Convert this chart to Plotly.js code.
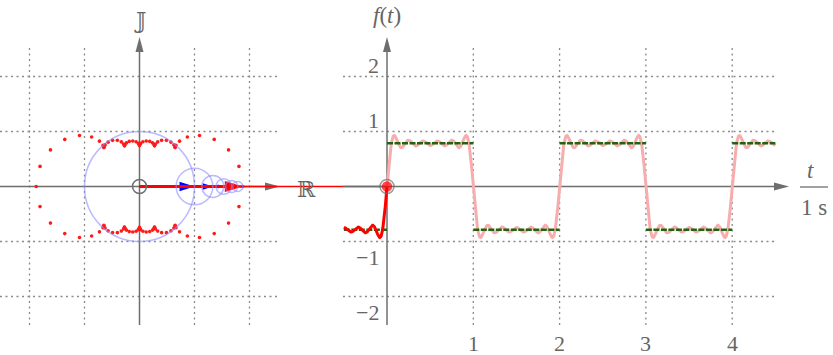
<!DOCTYPE html>
<html><head><meta charset="utf-8">
<script src="https://cdn.plot.ly/plotly-3.0.1.min.js"></script>
<style>html,body{margin:0;padding:0;background:#fff}</style>
</head><body><div id="chart" style="width:833px;height:355px"></div>
<script>
// ---------------- data ----------------
const harmonicOrders = [1, 3, 5, 7, 9, 11];                       // odd harmonics (circle count)
const harmonicAmplitudes = [1, 0.333, 0.2, 0.143, 0.111, 0.091];  // circle radii
const squareLevel = 0.785;                                        // green target level (±)
const squareEdges = [-0.5, 0, 1, 2, 3, 4, 4.5];                   // step boundaries in t
const squareSigns = [-1, 1, -1, 1, -1, 1];
const sampleStep = 0.02;     // spacing in t of the red locus dots
const period = 2;            // period of the square wave
const nowT = 0;              // current time (red dot)
const pastStart = -0.5;      // start of dark red history
const futureEnd = 4.5;       // end of light red curve
const tTicks = [1, 2, 3, 4];
const fTicks = [2, 1, -1, -2];
const leftGrid = [-2, -1, 1, 2];

// ---------------- geometry (style / layout) ----------------
const W = 833, H = 355;
const OXL = 139.5, OY = 186.5, S = 55;   // left panel origin (px) & px per unit
const OXR = 387, ST = 86.3;              // right panel origin x (px) & px per t unit
const GRAY = '#6e6e6e', FONT = 'Liberation Serif, DejaVu Serif, serif';

const xRange = [(0 - OXL) / S, (W - OXL) / S];
const x2Range = [(0 - OXR) / ST, (W - OXR) / ST];
const yRange = [(OY - H) / S, OY / S];
const px2x = p => (p - OXL) / S, px2t = p => (p - OXR) / ST, px2y = p => (OY - p) / S;
const tToX = t => (OXR + ST * t - OXL) / S;

const traces = [];
function line(xs, ys, color, width, axis, dash) {
  traces.push({type: 'scatter', mode: 'lines', x: xs, y: ys, xaxis: axis || 'x', yaxis: 'y',
    line: {color: color, width: width, dash: dash || 'solid'}, hoverinfo: 'skip', cliponaxis: false});
}
// triangle arrow head: tip (data), direction (px, y up), length & half width (px)
function head(tx, ty, dx, dy, len, hw, color, axis) {
  const sx = axis === 'x2' ? ST : S;
  const m = Math.hypot(dx, dy); dx /= m; dy /= m;
  const nx = -dy, ny = dx;
  const bx = tx - len * dx / sx, by = ty - len * dy / S;
  traces.push({type: 'scatter', mode: 'lines', xaxis: axis || 'x', yaxis: 'y', fill: 'toself',
    fillcolor: color, line: {width: 0, color: color}, hoverinfo: 'skip',
    x: [tx, bx + hw * nx / sx, bx - hw * nx / sx, tx], y: [ty, by + hw * ny / S, by - hw * ny / S, ty]});
}

// ---------------- grids ----------------
const DOT = '2px,3.5px', GRID = '#8a8a8a';
(function () {
  const gx = [], gy = [];
  const yLo = -2.52, yHi = 2.52, xLo = px2x(0), xHi = 2.52;
  leftGrid.forEach(v => { gx.push(v, v, null); gy.push(yLo, yHi, null); });
  leftGrid.forEach(v => { gx.push(xLo, xHi, null); gy.push(v, v, null); });
  line(gx, gy, GRID, 1.3, 'x', DOT);
  const rx = [], ry = [];
  const tLo = pastStart - 0.01, tHi = futureEnd + 0.01;
  tTicks.forEach(v => { rx.push(v, v, null); ry.push(yLo, yHi, null); });
  fTicks.forEach(v => { rx.push(tLo, tHi, null); ry.push(v, v, null); });
  line(rx, ry, GRID, 1.3, 'x2', DOT);
})();

// ---------------- axes ----------------
const yTip = px2y(37);
line([0, 0], [-2.52, yTip - 12 / S], GRAY, 1.5, 'x');           // imaginary axis
head(0, yTip, 0, 1, 15, 4, GRAY, 'x');
const xTip = px2x(280);
line([px2x(0), xTip - 12 / S], [0, 0], GRAY, 1.5, 'x');          // real axis
head(xTip, 0, 1, 0, 15, 4, GRAY, 'x');
line([0, 0], [-2.52, yTip - 12 / S], GRAY, 1.5, 'x2');          // f(t) axis
head(0, yTip, 0, 1, 15, 4, GRAY, 'x2');
const tTip = px2t(789);
line([pastStart - 0.01, tTip - 12 / ST], [0, 0], GRAY, 1.5, 'x2'); // t axis
head(tTip, 0, 1, 0, 15, 4, GRAY, 'x2');
line([px2t(800), px2t(828)], [px2y(187), px2y(187)], GRAY, 1.3, 'x2'); // fraction bar

// ---------------- Fourier model from the harmonics ----------------
function tipAt(t) {
  let re = 0, im = 0;
  harmonicOrders.forEach((n, k) => {
    re += harmonicAmplitudes[k] * Math.cos(n * Math.PI * t * 2 / period);
    im += harmonicAmplitudes[k] * Math.sin(n * Math.PI * t * 2 / period);
  });
  return [re, im];
}

// locus dots (one period)
(function () {
  const dx = [], dy = [];
  for (let k = 0; k < Math.round(period / sampleStep); k++) {
    const p = tipAt(k * sampleStep); dx.push(p[0]); dy.push(p[1]);
  }
  traces.push({type: 'scatter', mode: 'markers', x: dx, y: dy, xaxis: 'x', yaxis: 'y',
    marker: {color: '#ff1a1a', size: 3.6}, hoverinfo: 'skip'});
})();

// phasor circles and arrows at nowT
const shapes = [];
let cx = 0, cy = 0;
const centers = [];
harmonicOrders.forEach((n, k) => {
  const a = harmonicAmplitudes[k], ph = n * Math.PI * nowT * 2 / period;
  shapes.push({type: 'circle', xref: 'x', yref: 'y', layer: 'above',
    x0: cx - a, x1: cx + a, y0: cy - a, y1: cy + a, line: {color: 'rgba(140,140,255,0.6)', width: 1.5}});
  const nx = cx + a * Math.cos(ph), ny = cy + a * Math.sin(ph);
  centers.push([cx, cy, nx, ny, a]);
  cx = nx; cy = ny;
});
centers.forEach(c => {
  const L = c[4] * S, hl = Math.min(15, 0.55 * L);
  line([c[0], c[2]], [c[1], c[3]], '#0000ff', 1.5, 'x');
  head(c[2], c[3], c[2] - c[0], c[3] - c[1], hl, hl * 0.32, '#0000ff', 'x');
});
// resulting red arrow and projection line
const tip = tipAt(nowT);
line([0, tip[0] - 10 / S], [0, tip[1]], '#ff0000', 3, 'x');
head(tip[0], tip[1], tip[0], tip[1], 18, 5.5, '#ff0000', 'x');
line([tip[0], tToX(nowT)], [tip[1], tip[1]], '#ff0000', 1.5, 'x');

// origin circle (left)
traces.push({type: 'scatter', mode: 'markers', x: [0], y: [0], xaxis: 'x', yaxis: 'y', hoverinfo: 'skip',
  marker: {symbol: 'circle-open', size: 14, color: GRAY, line: {width: 1.5, color: GRAY}}});

// ---------------- right panel curves ----------------
(function () {
  const fx = [], fy = [];
  for (let t = nowT; t <= futureEnd + 1e-9; t += 0.004) { fx.push(t); fy.push(tipAt(t)[1]); }
  line(fx, fy, '#f7adad', 3, 'x2');
  const gx = [], gy = [];
  squareSigns.forEach((s, i) => { gx.push(squareEdges[i], squareEdges[i + 1], null); gy.push(s * squareLevel, s * squareLevel, null); });
  line(gx, gy, '#23620e', 2.4, 'x2', '6px,1.5px');
  const px = [], py = [];
  for (let t = pastStart; t <= nowT + 1e-9; t += 0.004) { px.push(t); py.push(tipAt(t)[1]); }
  line(px, py, '#ff0000', 3, 'x2');
  traces.push({type: 'scatter', mode: 'markers', x: [nowT, nowT], y: [tip[1], tip[1]], xaxis: 'x2', yaxis: 'y', hoverinfo: 'skip',
    marker: {symbol: ['circle-open', 'circle'], size: [14, 9], color: [GRAY, '#ff0000'], line: {width: 1.5, color: [GRAY, '#ff0000']}}});
})();

// ---------------- labels ----------------
const ann = [];
function txt(x, y, text, axis, size, opts) {
  ann.push(Object.assign({x: x, y: y, xref: axis, yref: 'y', text: text, showarrow: false,
    xanchor: 'center', yanchor: 'middle', font: {family: FONT, size: size, color: '#666'}}, opts || {}));
}
txt(0, px2y(20), '𝕁', 'x', 22, {font: {family: 'DejaVu Serif, DejaVu Sans', size: 22, color: '#666'}});
txt(px2x(306), px2y(189), 'ℝ', 'x', 22, {font: {family: 'DejaVu Serif, DejaVu Sans', size: 22, color: '#666'}});
txt(0, px2y(15), '<i>f</i>(<i>t</i>)', 'x2', 23);
txt(px2t(810), px2y(170), '<i>t</i>', 'x2', 23);
txt(px2t(814), px2y(207), '1 s', 'x2', 23);
tTicks.forEach(v => txt(v, px2y(343), String(v), 'x2', 22));
fTicks.forEach(v => txt(px2t(381), v, (v < 0 ? '\u2212' : '') + Math.abs(v), 'x2', 22,
  {xanchor: 'right', yshift: v > 0 ? 11 : -16}));

Plotly.newPlot('chart', traces, {
  width: W, height: H, margin: {l: 0, r: 0, t: 0, b: 0}, showlegend: false,
  paper_bgcolor: '#fff', plot_bgcolor: '#fff', hovermode: false,
  xaxis: {range: xRange, visible: false, fixedrange: true},
  xaxis2: {range: x2Range, visible: false, overlaying: 'x', fixedrange: true},
  yaxis: {range: yRange, visible: false, fixedrange: true},
  shapes: shapes, annotations: ann
}, {staticPlot: true, displayModeBar: false});
</script></body></html>
